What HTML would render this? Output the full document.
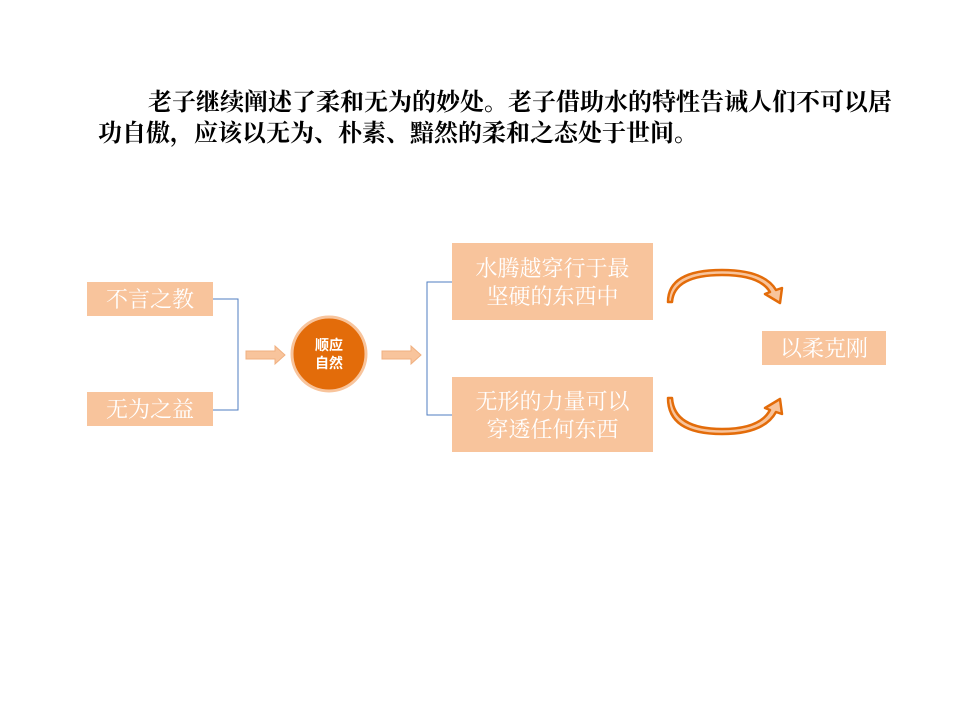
<!DOCTYPE html>
<html><head><meta charset="utf-8"><style>
body{margin:0;width:960px;height:720px;background:#fff;position:relative;overflow:hidden;font-family:"Liberation Sans","Noto Sans CJK SC",sans-serif}
.t{position:absolute;font-family:"Noto Serif CJK SC",serif;font-weight:bold;font-size:24px;line-height:31px;color:#000;white-space:nowrap}
.b{position:absolute;background:#f8c49c;color:#fff;font-size:22px;text-align:center;font-family:"Noto Serif CJK SC",serif}
</style></head><body>
<div class="t" style="left:148px;top:84px">老子继续阐述了柔和无为的妙处。老子借助水的特性告诫人们不可以居</div>
<div class="t" style="left:98px;top:115px">功自傲，应该以无为、朴素、黯然的柔和之态处于世间。</div>

<div class="b" style="left:87px;top:282px;width:126px;height:34px;line-height:34px">不言之教</div>
<div class="b" style="left:87px;top:392px;width:126px;height:34px;line-height:34px">无为之益</div>
<div class="b" style="left:452px;top:243px;width:201px;height:77px;line-height:28px;padding-top:11px;box-sizing:border-box">水腾越穿行于最<br>坚硬的东西中</div>
<div class="b" style="left:452px;top:377px;width:201px;height:75px;line-height:28px;padding-top:10px;box-sizing:border-box">无形的力量可以<br>穿透任何东西</div>
<div class="b" style="left:762px;top:331px;width:124px;height:34px;line-height:34px">以柔克刚</div>

<svg width="960" height="720" style="position:absolute;left:0;top:0">
<polyline points="213,299 238,299 238,410 213,410" fill="none" stroke="#4f7ec0" stroke-width="1"/>
<polyline points="452,282 427,282 427,415 452,415" fill="none" stroke="#4f7ec0" stroke-width="1"/>
<polygon points="246,351 275,351 275,346 285,355 275,364 275,359 246,359" fill="#f8c49c" stroke="#f0b080"/>
<polygon points="382,351 411,351 411,346 421,355 411,364 411,359 382,359" fill="#f8c49c" stroke="#f0b080"/>
<circle cx="329" cy="354" r="37" fill="#e36c0a" stroke="#f8c49c" stroke-width="3"/>
<text x="329" y="350" text-anchor="middle" font-size="14" font-weight="bold" fill="#fff" font-family="Noto Sans CJK SC,sans-serif">顺应</text>
<text x="329" y="368" text-anchor="middle" font-size="14" font-weight="bold" fill="#fff" font-family="Noto Sans CJK SC,sans-serif">自然</text>
<path d="M672,302 Q674,275 722,275 Q760,275 770,292 L765,294 L780,303 L782,288 L776,290 Q764,270 722,270 Q668,270 668,302 Z" fill="#f8c49c" stroke="#e36c0a" stroke-width="2.5" stroke-linejoin="round"/>
<path d="M672,398 Q674,429 722,429 Q760,429 770,410 L765,408 L780,399 L782,414 L776,412 Q764,434 722,434 Q668,434 668,398 Z" fill="#f8c49c" stroke="#e36c0a" stroke-width="2.5" stroke-linejoin="round"/>
</svg>
</body></html>
